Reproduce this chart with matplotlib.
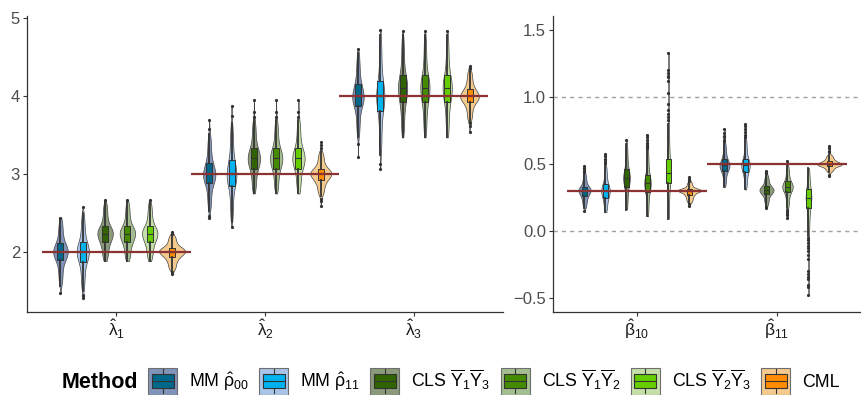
import numpy as np
import matplotlib
matplotlib.use('Agg')
import matplotlib.pyplot as plt
from matplotlib import cbook, mlab
from matplotlib.patches import Rectangle, Patch
from matplotlib.lines import Line2D
from matplotlib.legend_handler import HandlerBase

plt.rcParams['font.family'] = ['Liberation Sans', 'DejaVu Sans']
plt.rcParams['mathtext.fontset'] = 'custom'
plt.rcParams['mathtext.rm'] = 'Liberation Sans'
plt.rcParams['mathtext.it'] = 'Liberation Sans:italic'
plt.rcParams['mathtext.bf'] = 'Liberation Sans:bold'

# ---------------- data ----------------
methods = [r'MM $\mathrm{\hat{\rho}}_{00}$', r'MM $\mathrm{\hat{\rho}}_{11}$',
           r'CLS $\overline{\mathrm{Y}}_1\overline{\mathrm{Y}}_3$',
           r'CLS $\overline{\mathrm{Y}}_1\overline{\mathrm{Y}}_2$',
           r'CLS $\overline{\mathrm{Y}}_2\overline{\mathrm{Y}}_3$', 'CML']
box_colors = ['#00688B', '#00B2EE', '#2F6400', '#458B00', '#66CD00', '#FF8C00']
violin_colors = ['#8094B9', '#A9C4E6', '#8A9A7B', '#A5BE91', '#C4DFA8', '#F4C98D']

lam_labels = [r'$\mathrm{\hat{\lambda}}_1$', r'$\mathrm{\hat{\lambda}}_2$', r'$\mathrm{\hat{\lambda}}_3$']
lam_true = [2, 3, 4]
# rows: parameter, columns: method
lam_lo = [[1.56, 1.50, 1.88, 1.88, 1.88, 1.76],
          [2.52, 2.38, 2.75, 2.75, 2.75, 2.72],
          [3.47, 3.24, 3.47, 3.47, 3.47, 3.67]]
lam_q1 = [[1.89, 1.87, 2.12, 2.12, 2.12, 1.93],
          [2.88, 2.85, 3.07, 3.07, 3.07, 2.92],
          [3.87, 3.81, 3.92, 3.92, 3.92, 3.92]]
lam_med = [[2.00, 2.00, 2.23, 2.23, 2.23, 2.00],
           [3.00, 3.00, 3.20, 3.20, 3.20, 3.00],
           [4.00, 4.00, 4.10, 4.10, 4.10, 4.00]]
lam_q3 = [[2.11, 2.13, 2.33, 2.33, 2.33, 2.055],
          [3.14, 3.18, 3.33, 3.33, 3.33, 3.07],
          [4.15, 4.20, 4.27, 4.27, 4.27, 4.09]]
lam_hi = [[2.42, 2.50, 2.64, 2.64, 2.64, 2.22],
          [3.52, 3.66, 3.70, 3.70, 3.70, 3.29],
          [4.56, 4.78, 4.79, 4.79, 4.79, 4.34]]
lam_fliers = [[[2.44, 1.47], [2.57, 1.45, 1.43, 1.41], [2.66], [2.66], [2.66],
               [2.25, 2.23, 1.74, 1.72]],
              [[3.69, 3.58, 2.46, 2.43], [3.87, 3.75, 2.32], [3.95, 3.80, 3.73],
               [3.95, 3.80, 3.73], [3.95, 3.80, 3.73], [3.41, 3.37, 3.33, 2.68, 2.65, 2.59]],
              [[4.61, 3.39, 3.22], [4.85, 3.13, 3.06], [4.84], [4.84], [4.84],
               [4.39, 4.36, 3.65, 3.62, 3.54]]]

beta_labels = [r'$\mathrm{\hat{\beta}}_{10}$', r'$\mathrm{\hat{\beta}}_{11}$']
beta_true = [0.3, 0.5]
beta_lo = [[0.17, 0.14, 0.16, 0.11, 0.09, 0.21],
           [0.33, 0.31, 0.19, 0.17, -0.04, 0.44]]
beta_q1 = [[0.26, 0.25, 0.33, 0.29, 0.36, 0.27],
           [0.45, 0.44, 0.275, 0.29, 0.17, 0.485]]
beta_med = [[0.30, 0.30, 0.395, 0.355, 0.435, 0.30],
            [0.49, 0.49, 0.305, 0.33, 0.245, 0.50]]
beta_q3 = [[0.33, 0.35, 0.46, 0.42, 0.54, 0.31],
           [0.535, 0.54, 0.335, 0.37, 0.31, 0.52]]
beta_hi = [[0.43, 0.49, 0.65, 0.61, 0.80, 0.37],
           [0.66, 0.69, 0.42, 0.49, 0.47, 0.57]]
beta_fliers = [[[0.485, 0.47, 0.46, 0.45, 0.44, 0.15],
                [0.575, 0.56, 0.54, 0.52, 0.51],
                [0.68],
                [0.716, 0.70, 0.68, 0.66, 0.64, 0.63, 0.62],
                [1.326, 1.20, 1.18, 1.16, 1.15, 1.12, 1.03, 0.95, 0.90, 0.87, 0.85, 0.83],
                [0.405, 0.39, 0.38, 0.375, 0.20, 0.19]],
               [[0.76, 0.73, 0.71, 0.70, 0.68, 0.67],
                [0.80, 0.78, 0.76, 0.74, 0.72, 0.70],
                [0.45, 0.44, 0.43, 0.18, 0.17],
                [0.52, 0.16, 0.14, 0.13, 0.12, 0.10],
                [-0.05, -0.07, -0.09, -0.11, -0.13, -0.15, -0.18, -0.21, -0.30,
                 -0.32, -0.34, -0.36, -0.40, -0.42, -0.48],
                [0.635, 0.62, 0.60, 0.59, 0.42, 0.41]]]

# ---------------- drawing ----------------
W, H = 862, 395
fig = plt.figure(figsize=(W / 100, H / 100), dpi=100)


def fx(px):
    return px / W


def fy(py):
    return 1 - py / H


ax1 = fig.add_axes([fx(27), fy(312), fx(503 - 27), fy(16) - fy(312)])
ax2 = fig.add_axes([fx(553), fy(312), fx(861 - 553), fy(16) - fy(312)])

offsets = (np.arange(6) - 2.5) * 0.15
EDGE = '#333333'


def pchip(xk, yk, x):
    """Monotone cubic (Fritsch-Carlson) interpolation."""
    xk = np.asarray(xk, float)
    yk = np.asarray(yk, float)
    h = np.diff(xk)
    d = np.diff(yk) / h
    n = len(xk)
    m = np.zeros(n)
    for k in range(1, n - 1):
        if d[k - 1] * d[k] <= 0:
            m[k] = 0
        else:
            w1 = 2 * h[k] + h[k - 1]
            w2 = h[k] + 2 * h[k - 1]
            m[k] = (w1 + w2) / (w1 / d[k - 1] + w2 / d[k])

    def edge(h0, h1, d0, d1):
        e = ((2 * h0 + h1) * d0 - h0 * d1) / (h0 + h1)
        if np.sign(e) != np.sign(d0):
            e = 0
        elif np.sign(d0) != np.sign(d1) and abs(e) > 3 * abs(d0):
            e = 3 * d0
        return e

    m[0] = edge(h[0], h[1], d[0], d[1])
    m[-1] = edge(h[-1], h[-2], d[-1], d[-2])
    idx = np.clip(np.searchsorted(xk, x) - 1, 0, n - 2)
    t = (x - xk[idx]) / h[idx]
    h00 = 2 * t ** 3 - 3 * t ** 2 + 1
    h10 = t ** 3 - 2 * t ** 2 + t
    h01 = -2 * t ** 3 + 3 * t ** 2
    h11 = t ** 3 - t ** 2
    return (h00 * yk[idx] + h10 * h[idx] * m[idx] + h01 * yk[idx + 1]
            + h11 * h[idx] * m[idx + 1])


def kde(X, coords):
    return mlab.GaussianKDE(X, 0.3).evaluate(coords)


def draw_panel(ax, labels, true, lo, q1, med, q3, hi, fliers):
    n = len(labels)
    grid = np.linspace(0, 1, 400)
    all_stats, positions, bstats, cols = [], [], [], []
    for i in range(n):
        for m in range(6):
            core = pchip([0, .25, .5, .75, 1],
                         [lo[i][m], q1[i][m], med[i][m], q3[i][m], hi[i][m]], grid)
            sample = np.concatenate([core, np.array(fliers[i][m], float)])
            vs = cbook.violin_stats(sample, kde, points=200)[0]
            all_stats.append(vs)
            positions.append(i + 1 + offsets[m])
            cols.append(m)
            bstats.append(dict(med=med[i][m], q1=q1[i][m], q3=q3[i][m],
                               whislo=lo[i][m], whishi=hi[i][m],
                               fliers=fliers[i][m]))
    vmax = max(np.max(s['vals']) for s in all_stats)
    widths = [0.175 * np.max(s['vals']) / vmax for s in all_stats]
    parts = ax.violin(all_stats, positions=positions, widths=widths,
                      showmeans=False, showextrema=False, showmedians=False)
    for body, m in zip(parts['bodies'], cols):
        body.set_facecolor(violin_colors[m])
        body.set_edgecolor('#444444')
        body.set_linewidth(0.5)
        body.set_alpha(1)
        body.set_zorder(2)
    bp = ax.bxp(bstats, positions=positions, widths=0.04, patch_artist=True,
                showcaps=False, manage_ticks=False,
                boxprops=dict(edgecolor=EDGE, linewidth=0.7),
                medianprops=dict(color=EDGE, linewidth=0.8),
                whiskerprops=dict(color=EDGE, linewidth=1.3),
                flierprops=dict(marker='o', markersize=2.3, markerfacecolor=EDGE,
                                markeredgecolor='none'), zorder=3)
    for patch, m in zip(bp['boxes'], cols):
        patch.set_facecolor(box_colors[m])
    for i in range(n):
        ax.hlines(true[i], i + 0.5, i + 1.5, color='#8B3232', linewidth=1.6, zorder=5)
    ax.set_xlim(0.4, n + 0.6)
    ax.set_xticks(np.arange(1, n + 1))
    ax.set_xticklabels(labels)
    for s in ['top', 'right']:
        ax.spines[s].set_visible(False)
    for s in ['left', 'bottom']:
        ax.spines[s].set_color('#333333')
        ax.spines[s].set_linewidth(0.9)
    ax.tick_params(axis='y', labelsize=12, labelcolor='#4D4D4D', length=3,
                   color='#333333', pad=2)
    ax.tick_params(axis='x', labelsize=12.5, labelcolor='#1A1A1A', length=3,
                   color='#333333', pad=1)


draw_panel(ax1, lam_labels, lam_true, lam_lo, lam_q1, lam_med, lam_q3, lam_hi, lam_fliers)
ax1.set_ylim(1.227, 5.03)
ax1.set_yticks([2, 3, 4, 5])

draw_panel(ax2, beta_labels, beta_true, beta_lo, beta_q1, beta_med, beta_q3, beta_hi, beta_fliers)
ax2.set_ylim(-0.604, 1.604)
ax2.set_yticks([-0.5, 0.0, 0.5, 1.0, 1.5])
ax2.set_yticklabels(['\u22120.5', '0.0', '0.5', '1.0', '1.5'])
for yv in [0.0, 1.0]:
    ax2.axhline(yv, color='#A0A0A0', linestyle=(0, (3, 3)), linewidth=1.0, zorder=1)


# ---------------- legend ----------------
class BoxKey(HandlerBase):
    def __init__(self, vcol, bcol):
        super().__init__()
        self.vcol = vcol
        self.bcol = bcol

    def create_artists(self, legend, orig_handle, xdescent, ydescent, width, height,
                       fontsize, trans):
        x0, y0 = -xdescent, -ydescent
        bg = Rectangle((x0, y0), width, height, facecolor=self.vcol,
                       edgecolor='#6E6E6E', linewidth=0.8, transform=trans)
        cx = x0 + width / 2
        wl = Line2D([cx, cx], [y0 + height * 0.05, y0 + height * 0.95], color=EDGE,
                    linewidth=0.8, transform=trans)
        bx = Rectangle((x0 + width * 0.12, y0 + height * 0.25), width * 0.76, height * 0.5,
                       facecolor=self.bcol, edgecolor=EDGE, linewidth=0.8, transform=trans)
        md = Line2D([x0 + width * 0.12, x0 + width * 0.88], [y0 + height / 2] * 2,
                    color=EDGE, linewidth=0.8, transform=trans)
        return [bg, wl, bx, md]


handles = [Patch(label=lab) for lab in methods]
hmap = {h: BoxKey(violin_colors[i], box_colors[i]) for i, h in enumerate(handles)}
fs = 12.8
fpx = fs * 100 / 72
key_h = 27 / fpx                      # desired key height in font units
hh = (key_h - 0.245) / 0.65           # legend's handleheight giving that height
leg = fig.legend(handles=handles, labels=methods, handler_map=hmap, ncol=6,
                 loc='center', bbox_to_anchor=(fx(494), fy(381)), frameon=False,
                 fontsize=fs, handlelength=29 / fpx,
                 handleheight=hh, handletextpad=12 / fpx,
                 columnspacing=10 / fpx, borderpad=0, borderaxespad=0)
fig.text(fx(62), fy(382), 'Method', fontsize=15.5, fontweight='bold',
         ha='left', va='center', color='black')

fig.savefig('out.png', dpi=100)
